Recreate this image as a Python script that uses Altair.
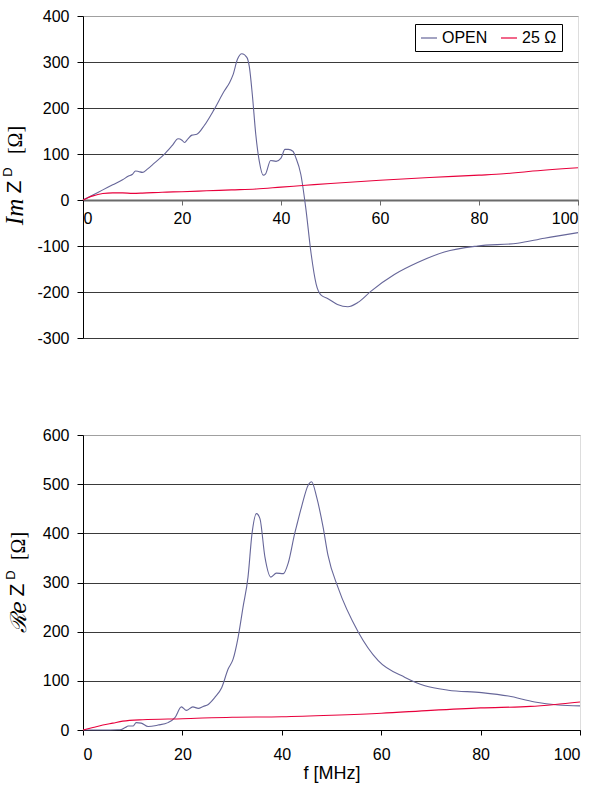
import altair as alt
import pandas as pd

SERIES = ["OPEN", "25 Ω"]
COLORS = ["#666699", "#e8003c"]

# Im Z^D, OPEN
F_IM_OPEN = [0, 2, 4, 6, 8, 9.2, 10, 10.6, 11.2, 12, 13, 14.4, 16.4, 18, 19.2, 20, 20.5, 21.2, 22, 23,
             24.5, 26.5, 28.6, 29.6, 30.3, 31.2, 32.1, 33.1, 33.6, 34.2, 34.9, 35.6, 36.4, 36.9, 37.9,
             39, 40, 40.8, 41.5, 42.4, 43, 44, 45, 46.1, 47.1, 48.1, 49.4, 51.4, 53.5, 55.5, 58.2,
             62.9, 67.6, 73, 79.7, 87.8, 93.2, 100]
IM_OPEN = [0, 11, 22, 33, 44, 52, 56, 63, 62, 60, 67, 80, 99, 118, 133, 130, 125, 133, 141, 143,
           162, 197, 238, 255, 272, 306, 318, 310, 290, 230, 143, 85, 54, 57, 86,
           84, 91, 110, 110, 106, 92, 56, -17, -118, -183, -207, -214, -227, -232, -223, -198,
           -162, -136, -113, -100, -94, -83, -71]

# Im Z^D, 25 Ohm
F_IM_25 = [0, 1, 2, 3, 4, 6, 8, 10, 12, 16, 20, 25, 30, 35, 40, 45, 50, 60, 70, 80, 85, 90, 100]
IM_25 = [0, 5, 9, 12, 14, 15.5, 15.5, 14.5, 15, 17, 18, 20, 22, 24, 28, 32, 36, 43, 49, 54, 57, 62, 70]

# Re Z^D, OPEN
F_RE_OPEN = [0, 4, 7, 7.7, 8.5, 9.1, 10.1, 10.7, 11.7, 13.1, 15.1, 17.1, 18.5, 19.8, 20.8, 22.1, 23.2,
             24.2, 25.2, 26.5, 27.9, 29.2, 30.2, 31.2, 32.2, 33.2, 34, 34.9, 35.6, 36.6, 37.8, 38.9,
             40.3, 41.3, 42.6, 43.1, 44, 45.3, 46, 47, 48.3, 49.3, 51.3, 55.4, 59.4, 64.8, 68.8,
             73.5, 80.2, 85.6, 90.9, 95.6, 100]
RE_OPEN = [0, 0, 0.5, 1, 5, 8, 8, 15, 14, 7, 10, 15, 25, 47, 40, 47, 44,
           48, 52, 66, 86, 124, 144, 188, 250, 311, 399, 440, 430, 352, 311, 319,
           318, 340, 400, 420, 455, 498, 505, 474, 413, 355, 290, 199, 141, 107, 90,
           81, 76, 69, 57, 51, 49]

# Re Z^D, 25 Ohm
F_RE_25 = [0, 2, 4, 6, 8, 12, 20, 30, 40, 50, 60, 70, 80, 90, 95, 100]
RE_25 = [0, 5, 10, 14, 18, 21, 23, 26, 27, 30, 34, 40, 45, 48, 52, 57]

X_TICKS = [0, 20, 40, 60, 80, 100]
IM_TICKS = [-300, -200, -100, 0, 100, 200, 300, 400]
RE_TICKS = [0, 100, 200, 300, 400, 500, 600]

LABEL = dict(labelFont="Liberation Sans", labelFontSize=16, labelColor="black",
             labelExpr="'' + datum.value")


def long_df(f1, v1, f2, v2):
    return pd.concat([
        pd.DataFrame({"f": f1, "v": v1, "s": SERIES[0]}),
        pd.DataFrame({"f": f2, "v": v2, "s": SERIES[1]}),
    ], ignore_index=True)


def legend(x, y):
    return alt.Legend(orient="none", legendX=x, legendY=y, direction="horizontal", title=None,
                      strokeColor="black", fillColor="white", padding=5, symbolType="stroke",
                      symbolSize=256, symbolStrokeWidth=1.2, labelFont="Liberation Sans",
                      labelFontSize=16, labelColor="black", columnPadding=10, labelOffset=4,
                      cornerRadius=0)


def grid_color(top):
    return {"condition": {"test": f"datum.value == {top}", "value": "#a0a0a0"}, "value": "#3a3a3a"}


one = pd.DataFrame({"k": [0]})


def piece(text, x, y, font, size, style="normal"):
    return alt.Chart(one).mark_text(text=text, angle=270, align="center", baseline="middle",
                                    font=font, fontSize=size, fontStyle=style, color="black").encode(
        x=alt.value(x), y=alt.value(y))


W1, H1 = 495, 322
W2, H2 = 497, 295

im_df = long_df(F_IM_OPEN, IM_OPEN, F_IM_25, IM_25)
re_df = long_df(F_RE_OPEN, RE_OPEN, F_RE_25, RE_25)

im_lines = alt.Chart(im_df).mark_line(interpolate="monotone", strokeWidth=1.1).encode(
    x=alt.X("f:Q", scale=alt.Scale(domain=[0, 100], nice=False),
            axis=alt.Axis(values=X_TICKS, title=None, grid=False, offset=-(H1 * 300 / 700),
                          domainColor="#6a6a6a", domainWidth=2, tickColor="#6a6a6a", tickSize=5,
                          labelPadding=5, **LABEL)),
    y=alt.Y("v:Q", scale=alt.Scale(domain=[-300, 400], nice=False),
            axis=alt.Axis(values=IM_TICKS, title=None, gridColor=grid_color(400), tickSize=6,
                          labelPadding=8, tickColor="black", domainColor="black", **LABEL)),
    color=alt.Color("s:N", scale=alt.Scale(domain=SERIES, range=COLORS), legend=legend(332, 8)),
)

top = alt.layer(
    im_lines,
    piece("Im", -68, 196, "Liberation Serif", 25, "italic"),
    piece("Z", -68, 171, "Liberation Sans", 21),
    piece("D", -75, 156, "Liberation Sans", 13),
    piece("[Ω]", -67.5, 124, "Liberation Serif", 20),
).properties(width=W1, height=H1)

re_lines = alt.Chart(re_df).mark_line(interpolate="monotone", strokeWidth=1.1).encode(
    x=alt.X("f:Q", scale=alt.Scale(domain=[0, 100], nice=False),
            axis=alt.Axis(values=X_TICKS, title="f [MHz]", grid=False, tickSize=5, labelPadding=11,
                          titleFont="Liberation Sans", titleFontSize=18, titleFontWeight="normal",
                          titleColor="black", titlePadding=2, tickColor="black",
                          domainColor="black", **LABEL)),
    y=alt.Y("v:Q", scale=alt.Scale(domain=[0, 600], nice=False),
            axis=alt.Axis(values=RE_TICKS, title=None, gridColor=grid_color(600), tickSize=6,
                          labelPadding=8, tickColor="black", domainColor="black", **LABEL)),
    color=alt.Color("s:N", scale=alt.Scale(domain=SERIES, range=COLORS), legend=legend(330, 8)),
)

bottom = alt.layer(
    re_lines,
    piece("ℛe", -64.5, 182, "DejaVu Serif", 22, "italic"),
    piece("Z", -65, 155, "Liberation Sans", 21),
    piece("D", -72, 140, "Liberation Sans", 13),
    piece("[Ω]", -64.5, 111, "Liberation Serif", 20),
).properties(width=W2, height=H2)

chart = alt.vconcat(top, bottom, spacing=79).properties(
    padding={"left": 1, "top": 7, "right": 5, "bottom": 5}
).configure_view(stroke="#a0a0a0").configure(background="white")

chart.save("out.html", embed_options={"renderer": "svg", "actions": False})
